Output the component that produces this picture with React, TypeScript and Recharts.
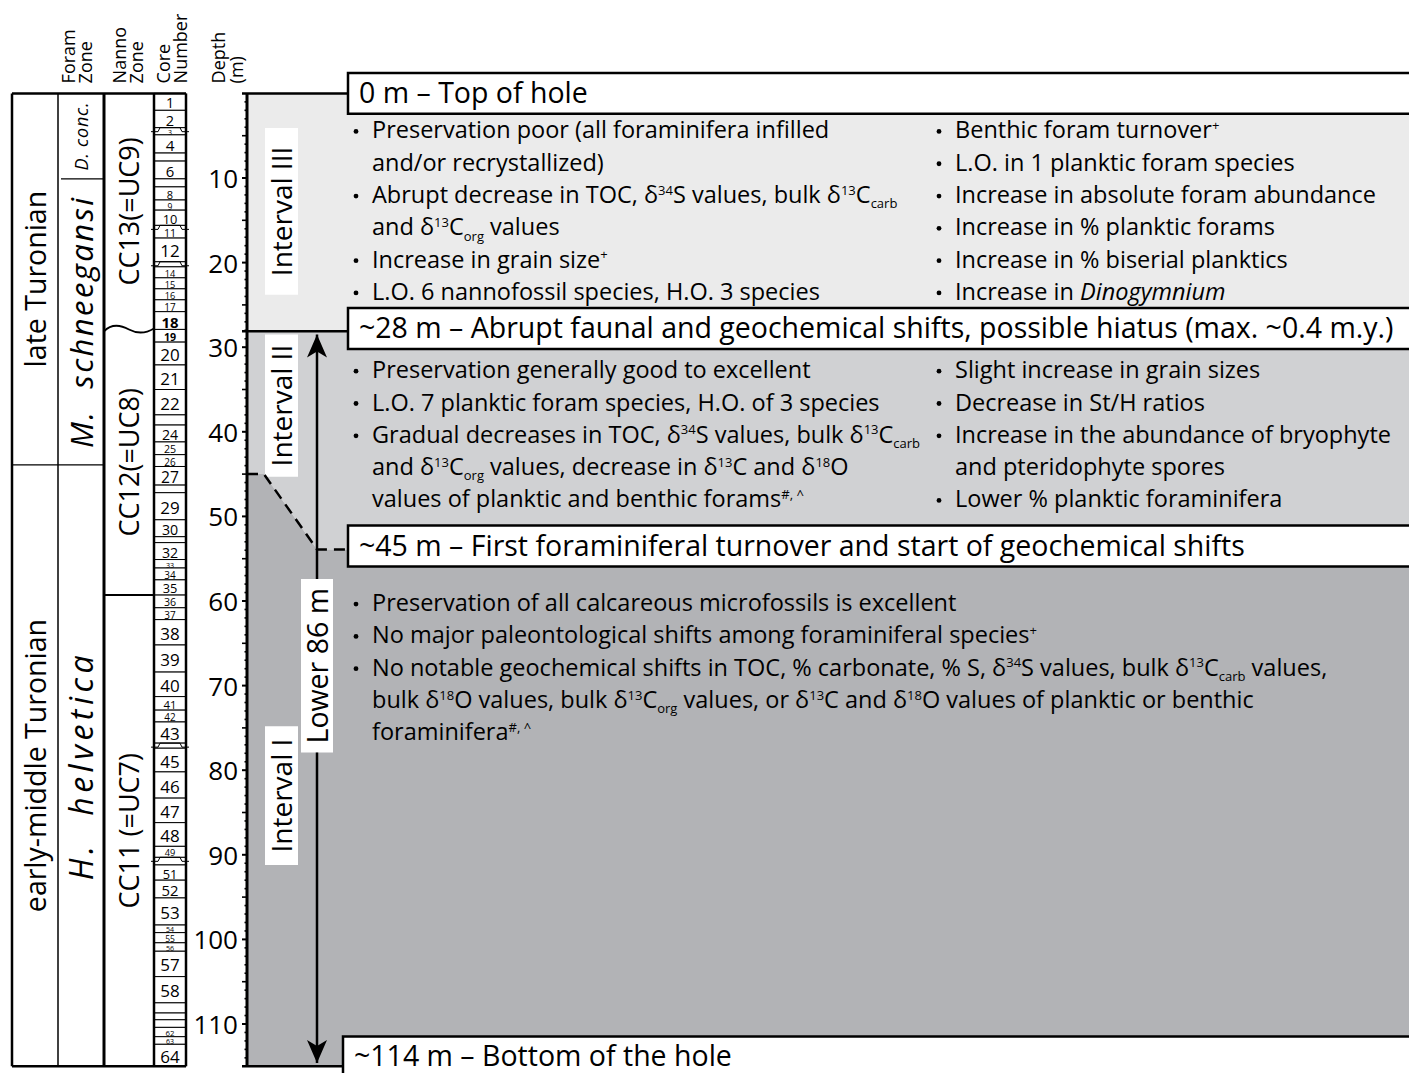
import React from 'react';
import {
  ComposedChart,
  Area,
  Line,
  XAxis,
  YAxis,
  ReferenceArea,
  ReferenceLine
} from 'recharts';

const FONT = '"Open Sans", "Noto Sans", sans-serif';

// ---- data (depths in m) ----
const DEPTH_MAX = 115;
const depthLabels = [10, 20, 30, 40, 50, 60, 70, 80, 90, 100, 110];
const depthTicks = Array.from({ length: 114 }, (_, i) => i + 1);

const stages = [
  { name: 'late Turonian', top: 0, base: 43.9 },
  { name: 'early-middle Turonian', top: 43.9, base: 115 }
];
const foramZones = [
  { name: 'D. conc.', top: 0, base: 10.1 },
  { name: 'M. schneegansi', top: 10.1, base: 43.9 },
  { name: 'H. helvetica', top: 43.9, base: 115 }
];
const nannoZones = [
  { name: 'CC13(=UC9)', top: 0, base: 27.9 },
  { name: 'CC12(=UC8)', top: 27.9, base: 59.3 },
  { name: 'CC11 (=UC7)', top: 59.3, base: 115 }
];

// top of cores 1..64
const coreTops = [
  0, 2.0, 4.05, 4.9, 7.05, 8.0, 10.1, 11.05, 12.6, 13.8,
  15.6, 17.1, 19.9, 20.5, 21.8, 23.1, 24.4, 25.8, 27.9, 29.4,
  32.1, 35.0, 38.0, 39.2, 41.2, 42.7, 44.1, 46.3, 47.2, 50.4,
  52.4, 53.1, 55.1, 56.1, 57.5, 59.3, 60.8, 62.2, 65.2, 68.4,
  71.3, 72.9, 74.3, 76.8, 77.4, 80.2, 83.3, 86.2, 89.0, 90.3,
  91.2, 93.0, 95.1, 98.3, 99.2, 100.4, 101.4, 104.4, 107.5, 108.7,
  109.5, 110.4, 111.5, 112.4
];
const unlabelledCores = [5, 7, 13, 23, 28, 31, 44, 50, 59, 60, 61];
const partialCores = [3, 11, 13, 44, 50];
const boldCores = [18, 19];

// interval boundary (Interval II / I), x in px from the depth axis
const boundaryX = [0, 17, 70, 101, 1173];
const boundaryDepth = [45.0, 45.0, 53.9, 53.9, 53.9];
const INTERVAL_TOP = 28.1;

const horizons = [
  { depth: 0, text: '0 m – Top of hole' },
  { depth: 27.8, text: '~28 m – Abrupt faunal and geochemical shifts, possible hiatus (max. ~0.4 m.y.)' },
  { depth: 53.5, text: '~45 m – First foraminiferal turnover and start of geochemical shifts' },
  { depth: 113.9, text: '~114 m – Bottom of the hole' }
];

const intervalLabels = [
  { name: 'Interval III', top: 4.1, base: 23.8 },
  { name: 'Interval II', top: 28.5, base: 45.3 },
  { name: 'Interval I', top: 74.8, base: 91.2 }
];
const lower86 = { name: 'Lower 86 m', top: 57.4, base: 77.9, from: 28.5, to: 114.6 };

const intervalIIILeft = [
  ['Preservation poor (all foraminifera infilled', 'and/or recrystallized)'],
  ['Abrupt decrease in TOC, δ^{34}S values, bulk δ^{13}C_{carb}', 'and δ^{13}C_{org} values'],
  ['Increase in grain size^{+}'],
  ['L.O. 6 nannofossil species, H.O. 3 species']
];
const intervalIIIRight = [
  ['Benthic foram turnover^{+}'],
  ['L.O. in 1 planktic foram species'],
  ['Increase in absolute foram abundance'],
  ['Increase in % planktic forams'],
  ['Increase in % biserial planktics'],
  ['Increase in *Dinogymnium*']
];
const intervalIILeft = [
  ['Preservation generally good to excellent'],
  ['L.O. 7 planktic foram species, H.O. of 3 species'],
  [
    'Gradual decreases in TOC, δ^{34}S values, bulk δ^{13}C_{carb}',
    'and δ^{13}C_{org} values, decrease in δ^{13}C and δ^{18}O',
    'values of planktic and benthic forams^{#, ^}'
  ]
];
const intervalIIRight = [
  ['Slight increase in grain sizes'],
  ['Decrease in St/H ratios'],
  ['Increase in the abundance of bryophyte', 'and pteridophyte spores'],
  ['Lower % planktic foraminifera']
];
const intervalILeft = [
  ['Preservation of all calcareous microfossils is excellent'],
  ['No major paleontological shifts among foraminiferal species^{+}'],
  [
    'No notable geochemical shifts in TOC, % carbonate, % S, δ^{34}S values, bulk δ^{13}C_{carb} values,',
    'bulk δ^{18}O values, bulk δ^{13}C_{org} values, or δ^{13}C and δ^{18}O values of planktic or benthic',
    'foraminifera^{#, ^}'
  ]
];
const blockTops = { III: 4.33, II: 32.67, I: 60.2 };

// ---- layout ----
const TOP = 93.4;
const BOTTOM_PAD = 1073 - 1066.3;
const COL = { stage: [0, 46], foram: [46, 92], nanno: [92, 142], core: [142, 174] };
const LINE_H = 32.3;
const BULLET_SIZE = 23.5;
const foramStyle = [
  { size: 18, spacing: 0.8 },
  { size: 31, spacing: 2.4 },
  { size: 32, spacing: 4.5 }
];

const regionData = boundaryX.map((x, i) => ({
  x,
  light: [0, INTERVAL_TOP],
  mid: [INTERVAL_TOP, boundaryDepth[i]],
  dark: [boundaryDepth[i], DEPTH_MAX],
  dash: i < 4 ? boundaryDepth[i] : null
}));

function rich(text: string, size: number) {
  const out: React.ReactNode[] = [];
  const re = /\^\{([^}]*)\}|_\{([^}]*)\}|\*([^*]+)\*/g;
  let last = 0;
  let cur = 0;
  let k = 0;
  const small = Math.round(size * 0.57);
  const push = (s: string, off: number, extra: any = {}) => {
    out.push(
      <tspan key={k++} dy={off - cur} {...extra}>
        {s}
      </tspan>
    );
    cur = off;
  };
  let m: RegExpExecArray | null;
  while ((m = re.exec(text))) {
    if (m.index > last) push(text.slice(last, m.index), 0);
    if (m[1] !== undefined) push(m[1], -size * 0.36, { fontSize: small });
    else if (m[2] !== undefined) push(m[2], size * 0.22, { fontSize: small });
    else push(m[3], 0, { fontStyle: 'italic' });
    last = re.lastIndex;
  }
  if (last < text.length) push(text.slice(last), 0);
  return out;
}

const vText = (text: string, size: number, italic = false, spacing = 0) => (props: any) => {
  const vb = props.viewBox;
  const cx = vb.x + vb.width / 2;
  const cy = vb.y + vb.height / 2;
  return (
    <text
      x={cx}
      y={cy}
      transform={`rotate(-90 ${cx} ${cy})`}
      textAnchor="middle"
      dominantBaseline="central"
      fontFamily={FONT}
      fontSize={size}
      fontStyle={italic ? 'italic' : 'normal'}
      letterSpacing={spacing}
      fill="#000"
      style={{ whiteSpace: 'pre' }}
    >
      {text}
    </text>
  );
};

const bullets = (items: string[][], size = BULLET_SIZE) => (props: any) => {
  const { x, y } = props.viewBox;
  const rows: React.ReactNode[] = [];
  let i = 0;
  items.forEach((lines) =>
    lines.forEach((ln, j) => {
      const yy = y + i * LINE_H + size * 0.36;
      if (j === 0) {
        rows.push(<circle key={`b${i}`} cx={x + 3} cy={yy - size * 0.3} r={2.4} fill="#000" />);
      }
      rows.push(
        <text key={`t${i}`} x={x + 19} y={yy} fontFamily={FONT} fontSize={size} fill="#000" style={{ whiteSpace: 'pre' }}>
          {rich(ln, size)}
        </text>
      );
      i++;
    })
  );
  return <g>{rows}</g>;
};

const boxText = (text: string) => (props: any) => {
  const vb = props.viewBox;
  return (
    <text x={vb.x + 11} y={vb.y + vb.height / 2 + 9.5} fontFamily={FONT} fontSize={28.5} fill="#000">
      {text}
    </text>
  );
};

const arrow = (dir: 'up' | 'down') => (p: any) => {
  const { x1, y1, x2, y2 } = p;
  const tip = dir === 'up' ? Math.min(y1, y2) : Math.max(y1, y2);
  const s = dir === 'up' ? 1 : -1;
  return (
    <g>
      <line x1={x1} y1={y1} x2={x2} y2={y2} stroke="#000" strokeWidth={2.5} />
      <path
        d={`M${x1},${tip} L${x1 - 10},${tip + s * 23} L${x1},${tip + s * 17} L${x1 + 10},${tip + s * 23} Z`}
        fill="#000"
      />
    </g>
  );
};

const wave = (p: any) => {
  const { x1, y1, x2 } = p;
  const w = x2 - x1;
  return (
    <path
      d={`M${x1},${y1 + 2} C${x1 + w * 0.15},${y1 - 6} ${x1 + w * 0.35},${y1 - 4} ${x1 + w * 0.5},${y1} S${x1 + w * 0.8},${y1 + 5} ${x2},${y1 - 1}`}
      fill="none"
      stroke="#000"
      strokeWidth={1.8}
    />
  );
};

const partialShape = (p: any) => {
  const { x, y, width, height } = p;
  return (
    <g>
      <rect x={x} y={y} width={width} height={height} fill="#fff" stroke="#000" strokeWidth={1} />
      <path
        d={`M${x - 3},${y + 4} L${x + 4},${y + 4} L${x + 6},${y} L${x + width - 6},${y} L${x + width - 4},${y + 4} L${x + width + 3},${y + 4}`}
        fill="none"
        stroke="#000"
        strokeWidth={1}
      />
    </g>
  );
};

const headerTicks = [65, 116, 160];
const headerLines: Record<number, string[]> = {
  65: ['Foram', 'Zone'],
  116: ['Nanno', 'Zone'],
  160: ['Core', 'Number']
};

const HeaderTick = (props: any) => {
  const { x, y, payload } = props;
  const lines = headerLines[payload.value] || [];
  return (
    <g>
      {lines.map((ln, i) => {
        const lx = x - 9 + i * 17.5;
        const ly = y - 10;
        return (
          <text
            key={i}
            x={lx}
            y={ly}
            transform={`rotate(-90 ${lx} ${ly})`}
            dominantBaseline="central"
            fontFamily={FONT}
            fontSize={18}
            fill="#000"
          >
            {ln}
          </text>
        );
      })}
    </g>
  );
};

const DepthTick = (props: any) => {
  const { x, y, payload } = props;
  const v = payload.value;
  const major = depthLabels.includes(v);
  const len = v % 5 === 0 ? 5 : 2.5;
  return (
    <g>
      <line x1={x - len} y1={y} x2={x} y2={y} stroke="#000" strokeWidth={major ? 2 : 1.6} />
      {major && (
        <text x={x - 9} y={y} textAnchor="end" dominantBaseline="central" fontFamily={FONT} fontSize={26} fill="#000">
          {v}
        </text>
      )}
    </g>
  );
};

const DepthTitle = (props: any) => {
  const vb = props.viewBox;
  const lines = ['Depth', '(m)'];
  return (
    <g>
      {lines.map((ln, i) => {
        const lx = vb.x + 28 + i * 18;
        const ly = vb.y - 10;
        return (
          <text
            key={i}
            x={lx}
            y={ly}
            transform={`rotate(-90 ${lx} ${ly})`}
            dominantBaseline="central"
            fontFamily={FONT}
            fontSize={18}
            fill="#000"
          >
            {ln}
          </text>
        );
      })}
    </g>
  );
};

function ZonePanel() {
  return (
    <ComposedChart
      width={194}
      height={1073}
      data={[{ x: 0 }]}
      margin={{ top: TOP - 80, bottom: BOTTOM_PAD, left: 10, right: 10 }}
    >
      <XAxis
        type="number"
        dataKey="x"
        orientation="top"
        domain={[0, 174]}
        ticks={headerTicks}
        interval={0}
        height={80}
        axisLine={false}
        tickLine={false}
        tickSize={0}
        tickMargin={0}
        tick={<HeaderTick />}
        allowDataOverflow
      />
      <YAxis type="number" domain={[0, DEPTH_MAX]} reversed hide width={0} allowDataOverflow />

      {stages.map((s) => (
        <ReferenceArea
          key={s.name}
          x1={COL.stage[0]}
          x2={COL.stage[1]}
          y1={s.top}
          y2={s.base}
          fill="#fff"
          fillOpacity={1}
          stroke="none"
          label={vText(s.name, 28.5)}
        />
      ))}
      {foramZones.map((s, i) => (
        <ReferenceArea
          key={s.name}
          x1={COL.foram[0]}
          x2={COL.foram[1]}
          y1={s.top}
          y2={s.base}
          fill="#fff"
          fillOpacity={1}
          stroke="none"
          label={vText(i === 0 ? s.name : s.name.replace('. ', '.  '), foramStyle[i].size, true, foramStyle[i].spacing)}
        />
      ))}
      {nannoZones.map((s) => (
        <ReferenceArea
          key={s.name}
          x1={COL.nanno[0]}
          x2={COL.nanno[1]}
          y1={s.top}
          y2={s.base}
          fill="#fff"
          fillOpacity={1}
          stroke="none"
          label={vText(s.name, 27)}
        />
      ))}
      {coreTops.map((top, i) => {
        const id = i + 1;
        const base = i + 1 < coreTops.length ? coreTops[i + 1] : DEPTH_MAX;
        const h = (base - top) * 8.46;
        const size = Math.min(17, Math.max(7, h * 0.84));
        const label = unlabelledCores.includes(id)
          ? undefined
          : (props: any) => {
              const vb = props.viewBox;
              return (
                <text
                  x={vb.x + vb.width / 2}
                  y={vb.y + vb.height / 2 + 1}
                  textAnchor="middle"
                  dominantBaseline="central"
                  fontFamily={FONT}
                  fontSize={size}
                  fontWeight={boldCores.includes(id) ? 700 : 400}
                  fill="#000"
                >
                  {id}
                </text>
              );
            };
        return (
          <ReferenceArea
            key={id}
            x1={COL.core[0]}
            x2={COL.core[1]}
            y1={top}
            y2={base}
            fill="#fff"
            fillOpacity={1}
            stroke="#000"
            strokeWidth={1}
            shape={partialCores.includes(id) ? partialShape : undefined}
            label={label}
          />
        );
      })}

      {/* zone boundaries */}
      <ReferenceLine segment={[{ x: COL.stage[0], y: stages[1].top }, { x: COL.stage[1], y: stages[1].top }]} stroke="#000" strokeWidth={1.2} />
      <ReferenceLine segment={[{ x: COL.foram[0] + 3, y: foramZones[1].top }, { x: COL.foram[1], y: foramZones[1].top }]} stroke="#000" strokeWidth={1.2} />
      <ReferenceLine segment={[{ x: COL.foram[0], y: foramZones[2].top }, { x: COL.foram[1], y: foramZones[2].top }]} stroke="#000" strokeWidth={1.2} />
      <ReferenceLine segment={[{ x: COL.nanno[0], y: nannoZones[2].top }, { x: COL.nanno[1], y: nannoZones[2].top }]} stroke="#000" strokeWidth={2} />
      <ReferenceLine segment={[{ x: COL.nanno[0], y: nannoZones[1].top }, { x: COL.nanno[1], y: nannoZones[1].top }]} shape={wave} />

      {/* column frame */}
      {[
        { x: COL.stage[0], w: 2.5 },
        { x: COL.foram[0], w: 1.5 },
        { x: COL.nanno[0], w: 3 },
        { x: COL.core[0], w: 2.5 },
        { x: COL.core[1], w: 2.5 }
      ].map((c) => (
        <ReferenceLine key={c.x} segment={[{ x: c.x, y: 0 }, { x: c.x, y: DEPTH_MAX }]} stroke="#000" strokeWidth={c.w} ifOverflow="visible" />
      ))}
      <ReferenceLine segment={[{ x: 0, y: 0 }, { x: 174, y: 0 }]} stroke="#000" strokeWidth={2.5} ifOverflow="visible" />
      <ReferenceLine segment={[{ x: 0, y: DEPTH_MAX }, { x: 174, y: DEPTH_MAX }]} stroke="#000" strokeWidth={2.5} ifOverflow="visible" />
    </ComposedChart>
  );
}

function IntervalPanel() {
  return (
    <ComposedChart
      width={1230}
      height={1073}
      data={regionData}
      margin={{ top: TOP, bottom: BOTTOM_PAD, left: 0, right: 0 }}
    >
      <XAxis type="number" dataKey="x" domain={[0, 1173]} hide allowDataOverflow />
      <YAxis
        type="number"
        domain={[0, DEPTH_MAX]}
        reversed
        width={57}
        ticks={depthTicks}
        interval={0}
        tickSize={0}
        tickMargin={0}
        tickLine={false}
        tick={<DepthTick />}
        axisLine={{ stroke: '#000', strokeWidth: 3 }}
        label={<DepthTitle />}
        allowDataOverflow
      />

      <Area dataKey="light" type="linear" stroke="none" fill="#ebebeb" fillOpacity={1} dot={false} activeDot={false} isAnimationActive={false} />
      <Area dataKey="mid" type="linear" stroke="none" fill="#d0d1d3" fillOpacity={1} dot={false} activeDot={false} isAnimationActive={false} />
      <Area dataKey="dark" type="linear" stroke="none" fill="#b2b3b6" fillOpacity={1} dot={false} activeDot={false} isAnimationActive={false} />
      <Line dataKey="dash" type="linear" stroke="#000" strokeWidth={2.5} strokeDasharray="11 7" dot={false} activeDot={false} connectNulls={false} isAnimationActive={false} />

      {/* horizon lines from axis to boxes */}
      <ReferenceLine segment={[{ x: -5, y: 0 }, { x: 101, y: 0 }]} stroke="#000" strokeWidth={2.5} ifOverflow="visible" />
      <ReferenceLine segment={[{ x: -5, y: INTERVAL_TOP }, { x: 101, y: INTERVAL_TOP }]} stroke="#000" strokeWidth={2.5} ifOverflow="visible" />
      <ReferenceLine segment={[{ x: -5, y: DEPTH_MAX }, { x: 96, y: DEPTH_MAX }]} stroke="#000" strokeWidth={2.5} ifOverflow="visible" />

      {/* Lower 86 m arrow */}
      <ReferenceLine segment={[{ x: 70, y: lower86.from }, { x: 70, y: lower86.top }]} shape={arrow('up')} ifOverflow="visible" />
      <ReferenceLine segment={[{ x: 70, y: lower86.base }, { x: 70, y: lower86.to }]} shape={arrow('down')} ifOverflow="visible" />
      <ReferenceArea x1={54} x2={86} y1={lower86.top} y2={lower86.base} fill="#fff" fillOpacity={1} stroke="none" label={vText(lower86.name, 28.5)} ifOverflow="visible" />

      {intervalLabels.map((iv) => (
        <ReferenceArea
          key={iv.name}
          x1={18}
          x2={51}
          y1={iv.top}
          y2={iv.base}
          fill="#fff"
          fillOpacity={1}
          stroke="none"
          label={vText(iv.name, 28)}
          ifOverflow="visible"
        />
      ))}

      {horizons.map((h, i) => (
        <ReferenceArea
          key={h.text}
          x1={i === 3 ? 96 : 101}
          x2={1300}
          y1={h.depth - 2.42}
          y2={h.depth + 2.42}
          fill="#fff"
          fillOpacity={1}
          stroke="#000"
          strokeWidth={2.5}
          label={boxText(h.text)}
          ifOverflow="visible"
        />
      ))}

      <ReferenceArea x1={106} x2={110} y1={blockTops.III} y2={blockTops.III + 1} fillOpacity={0} stroke="none" label={bullets(intervalIIILeft)} ifOverflow="visible" />
      <ReferenceArea x1={689} x2={693} y1={blockTops.III} y2={blockTops.III + 1} fillOpacity={0} stroke="none" label={bullets(intervalIIIRight)} ifOverflow="visible" />
      <ReferenceArea x1={106} x2={110} y1={blockTops.II} y2={blockTops.II + 1} fillOpacity={0} stroke="none" label={bullets(intervalIILeft)} ifOverflow="visible" />
      <ReferenceArea x1={689} x2={693} y1={blockTops.II} y2={blockTops.II + 1} fillOpacity={0} stroke="none" label={bullets(intervalIIRight)} ifOverflow="visible" />
      <ReferenceArea x1={106} x2={110} y1={blockTops.I} y2={blockTops.I + 1} fillOpacity={0} stroke="none" label={bullets(intervalILeft)} ifOverflow="visible" />
    </ComposedChart>
  );
}

export default function App() {
  return (
    <div
      style={{
        position: 'absolute',
        left: 0,
        top: 0,
        width: 1409,
        height: 1073,
        overflow: 'hidden',
        background: '#fff'
      }}
    >
      <div style={{ position: 'absolute', left: 2, top: 0 }}>
        <ZonePanel />
      </div>
      <div style={{ position: 'absolute', left: 190, top: 0 }}>
        <IntervalPanel />
      </div>
    </div>
  );
}
